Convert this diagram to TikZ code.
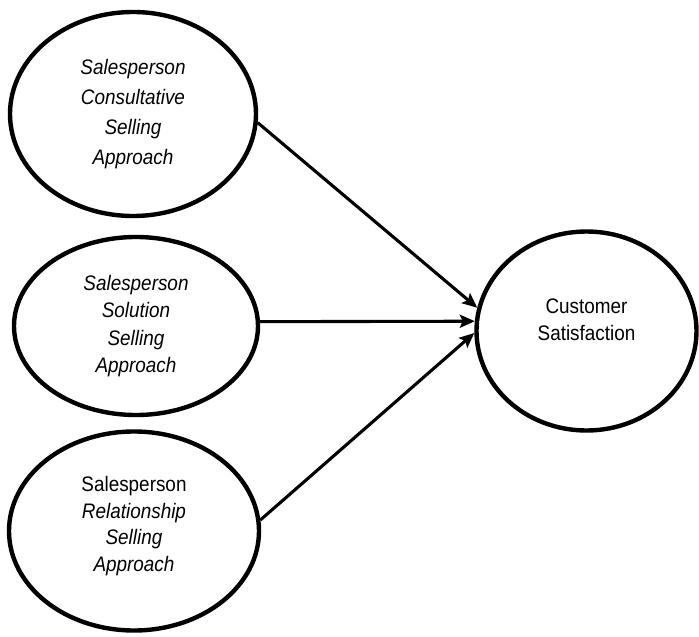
\documentclass[tikz,border=0pt]{standalone}
\usepackage{fontspec}
\setmainfont{Liberation Sans}[FakeStretch=0.9]
\usetikzlibrary{shapes.geometric,arrows.meta}
\tikzset{
  construct/.style={ellipse, draw=black, line width=4.4pt, inner sep=0pt, align=center,
    font=\fontsize{21}{28}\selectfont},
  link/.style={line width=3.1pt, -{Stealth[length=15pt,width=13pt,inset=3pt]}}
}
\begin{document}
\begin{tikzpicture}[x=1pt,y=-1pt]
\useasboundingbox (0,0) rectangle (699,637);
\node[construct, minimum width=246pt, minimum height=204pt, font=\fontsize{21}{30}\selectfont] (e1) at (133,114)
  {\itshape Salesperson\\ \itshape Consultative\\ \itshape Selling\\ \itshape Approach};
\node[construct, minimum width=244pt, minimum height=178pt, font=\fontsize{21}{27.5}\selectfont] (e2) at (136,326)
  {\itshape Salesperson\\ \itshape Solution\\ \itshape Selling\\ \itshape Approach};
\node[construct, minimum width=250pt, minimum height=199pt, font=\fontsize{21}{26.5}\selectfont] (e3) at (134,531)
  {Salesperson\\ \itshape Relationship\\ \itshape Selling\\ \itshape Approach\\[-12pt]};
\node[construct, minimum width=220pt, minimum height=199pt, font=\fontsize{21}{27}\selectfont] (cs) at (586.5,331)
  {Customer\\ Satisfaction\\[-5pt]};
\draw[link] (e1.-4) -- (cs.168);
\draw[link] (e2.2) -- (cs.175);
\draw[link] (e3.5) -- (cs.181.5);
\end{tikzpicture}
\end{document}
